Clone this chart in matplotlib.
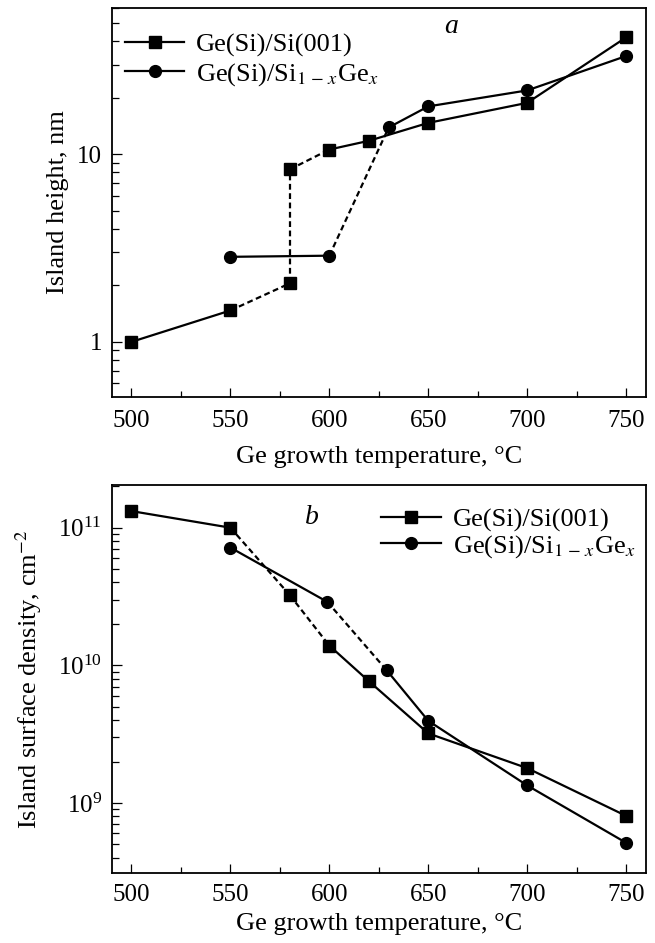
import matplotlib
matplotlib.use("Agg")
import matplotlib.pyplot as plt
from matplotlib.lines import Line2D
from matplotlib.ticker import FixedLocator, LogLocator, NullFormatter, FuncFormatter, MultipleLocator

plt.rcParams['font.family'] = ['Liberation Serif', 'DejaVu Serif']
plt.rcParams['mathtext.fontset'] = 'stix'

# ---------------- data: panel a (island height, nm) ----------------
h_sq_T = [500, 550, 580, 580, 600, 620, 650, 700, 750]
h_sq_V = [1.0, 1.47, 2.05, 8.3, 10.6, 11.8, 14.7, 18.8, 42.0]
h_sq_ls = ['-', '--', '--', '--', '-', '-', '-', '-']

h_ci_T = [550, 600, 630, 650, 700, 750]
h_ci_V = [2.84, 2.88, 13.9, 18.0, 21.9, 33.4]
h_ci_ls = ['-', '--', '-', '-', '-']

# ---------------- data: panel b (island surface density, cm^-2) ----------------
d_sq_T = [500, 550, 580, 600, 620, 650, 700, 750]
d_sq_V = [1.32e11, 1.0e11, 3.24e10, 1.39e10, 7.66e9, 3.2e9, 1.79e9, 8.05e8]
d_sq_ls = ['-', '--', '--', '-', '-', '-', '-']

d_ci_T = [550, 599, 629, 650, 700, 750]
d_ci_V = [7.17e10, 2.89e10, 9.2e9, 3.95e9, 1.34e9, 5.13e8]
d_ci_ls = ['-', '--', '-', '-', '-']

labels = ['Ge(Si)/Si(001)', r'Ge(Si)/Si$_{1\,-\,x}$Ge$_{x}$']
xticks = [500, 550, 600, 650, 700, 750]
xlabel = 'Ge growth temperature, °C'

LW = 1.6
DASH = (0, (2.6, 1.6))
MS = 8.5


def draw_series(ax, T, V, styles, marker):
    for i, ls in enumerate(styles):
        ax.plot(T[i:i + 2], V[i:i + 2], color='black', lw=LW,
                ls=('-' if ls == '-' else DASH), zorder=2)
    ax.plot(T, V, ls='none', marker=marker, ms=MS, color='black',
            mec='black', zorder=3)


def style_axes(ax, tickpad, labelpad):
    for s in ax.spines.values():
        s.set_linewidth(1.3)
    ax.set_xscale('linear')
    ax.set_yscale('log')
    ax.set_xlim(490, 760)
    ax.xaxis.set_major_locator(FixedLocator(xticks))
    ax.xaxis.set_minor_locator(MultipleLocator(25))
    ax.yaxis.set_minor_locator(LogLocator(base=10, subs=range(2, 10)))
    ax.yaxis.set_minor_formatter(NullFormatter())
    ax.tick_params(which='both', direction='in', top=False, right=False,
                   labelsize=18, width=0.9)
    ax.tick_params(axis='x', which='major', length=6.5, pad=tickpad)
    ax.tick_params(axis='x', which='minor', length=4.3)
    ax.tick_params(axis='y', which='major', length=7, pad=7)
    ax.tick_params(axis='y', which='minor', length=5)
    ax.set_xlabel(xlabel, fontsize=19, labelpad=labelpad)


fig = plt.figure(figsize=(6.55, 9.43), dpi=100)

# ---- panel a ----
ax1 = fig.add_axes([0.1705, 0.5793, 0.8157, 0.4119])
draw_series(ax1, h_sq_T, h_sq_V, h_sq_ls, 's')
draw_series(ax1, h_ci_T, h_ci_V, h_ci_ls, 'o')
style_axes(ax1, 9.5, 10)
ax1.set_ylim(0.51, 60)
ax1.yaxis.set_major_locator(FixedLocator([1, 10]))
ax1.yaxis.set_major_formatter(FuncFormatter(lambda v, p: '%g' % v))
ax1.set_ylabel('Island height, nm', fontsize=19, labelpad=6)
ax1.text(0.636, 0.953, 'a', transform=ax1.transAxes, fontsize=20,
         style='italic', ha='center', va='center')
h = [Line2D([], [], color='black', lw=LW, marker='s', ms=MS),
     Line2D([], [], color='black', lw=LW, marker='o', ms=MS)]
ax1.legend(h, labels, loc='upper left', bbox_to_anchor=(0.0, 0.97),
           frameon=False, fontsize=19, handlelength=2.25, handletextpad=0.45,
           labelspacing=0.15, borderaxespad=0.2, borderpad=0.3)

# ---- panel b ----
ax2 = fig.add_axes([0.1705, 0.0745, 0.8157, 0.4111])
draw_series(ax2, d_sq_T, d_sq_V, d_sq_ls, 's')
draw_series(ax2, d_ci_T, d_ci_V, d_ci_ls, 'o')
style_axes(ax2, 8, 5)
ax2.set_ylim(3.11e8, 2.04e11)
ax2.yaxis.set_major_locator(FixedLocator([1e9, 1e10, 1e11]))
ax2.set_ylabel(r'Island surface density, cm$^{-2}$', fontsize=19, labelpad=10)
ax2.text(0.374, 0.916, 'b', transform=ax2.transAxes, fontsize=20,
         style='italic', ha='center', va='center')
ax2.legend(h, labels, loc='upper left', bbox_to_anchor=(0.48, 0.975),
           frameon=False, fontsize=19, handlelength=2.25, handletextpad=0.45,
           labelspacing=0.05, borderaxespad=0.2, borderpad=0.3)

fig.savefig('out.png', dpi=100)
